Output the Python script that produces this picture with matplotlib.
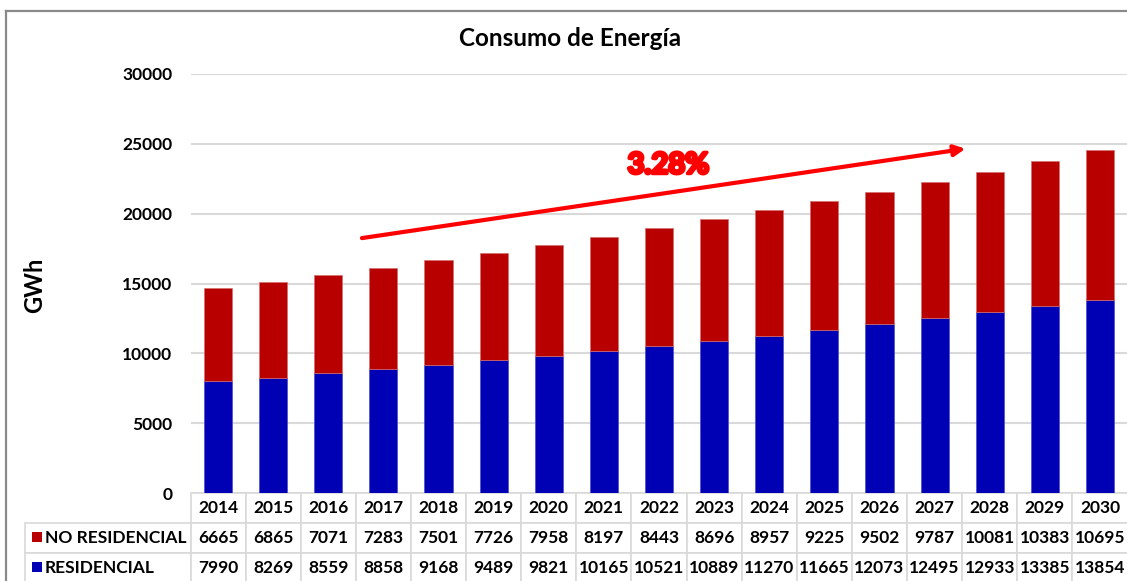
import matplotlib
matplotlib.use("Agg")
import matplotlib.pyplot as plt
import matplotlib.patheffects as pe
from matplotlib.patches import Rectangle
from matplotlib.lines import Line2D
import numpy as np

plt.rcParams['font.family'] = ['Lato', 'DejaVu Sans']

years = ['2014', '2015', '2016', '2017', '2018', '2019', '2020', '2021', '2022',
         '2023', '2024', '2025', '2026', '2027', '2028', '2029', '2030']
no_residencial = [6665, 6865, 7071, 7283, 7501, 7726, 7958, 8197, 8443,
                  8696, 8957, 9225, 9502, 9787, 10081, 10383, 10695]
residencial = [7990, 8269, 8559, 8858, 9168, 9489, 9821, 10165, 10521,
               10889, 11270, 11665, 12073, 12495, 12933, 13385, 13854]
series_labels = ['NO RESIDENCIAL', 'RESIDENCIAL']
growth_label = '3.28%'

RED = '#B80000'
BLUE = '#0000B4'
GRID = '#d9d9d9'

W, H = 1127, 581
fig = plt.figure(figsize=(W / 100, H / 100), dpi=100)
ax = fig.add_axes([190.5 / W, (H - 493) / H, 937 / W, 419 / H])

x = np.arange(len(years))
ax.bar(x, residencial, width=0.51, color=BLUE, edgecolor='#4a4ad0', linewidth=0.5, zorder=3)
ax.bar(x, no_residencial, bottom=residencial, width=0.51, color=RED,
       edgecolor='#d47070', linewidth=0.5, zorder=3)

ax.set_xlim(-0.5, len(years) - 0.5)
ax.set_ylim(0, 30000)
ax.set_yticks(range(0, 30001, 5000))
ax.set_xticks([])
ax.yaxis.grid(True, color=GRID, linewidth=1.5, zorder=0)
ax.tick_params(axis='y', length=0, pad=13, labelsize=12.5)
for t in ax.get_yticklabels():
    t.set_fontweight('bold')
for s in ax.spines.values():
    s.set_visible(False)

# growth arrow and label
ax.annotate('', xy=(13.56, 24650), xytext=(2.61, 18250),
            arrowprops=dict(arrowstyle='-|>', color='#FF0000', lw=3, mutation_scale=16,
                            shrinkA=0, shrinkB=0), zorder=5)
ax.text(8.17, 23450, growth_label, color='#FF0000', fontsize=21, fontweight='bold',
        ha='center', va='center', zorder=5,
        path_effects=[pe.withStroke(linewidth=2.5, foreground='#FF0000')])

# data table under the chart
cell_text = [[''] + years,
             [series_labels[0]] + [str(v) for v in no_residencial],
             [series_labels[1]] + [str(v) for v in residencial]]
label_w = 165.5 / 1102.5
col_w = [label_w] + [(1 - label_w) / len(years)] * len(years)
tbl = ax.table(cellText=cell_text, cellLoc='center', colWidths=col_w,
               bbox=[-0.1766, -0.215, 1.1766, 0.215])
tbl.auto_set_font_size(False)
tbl.set_fontsize(12.5)
for (r, c), cell in tbl.get_celld().items():
    cell.set_edgecolor(GRID)
    cell.set_linewidth(1.2)
    cell.get_text().set_fontweight('bold')
    if c == 0:
        if r == 0:
            cell.visible_edges = ''
        else:
            cell.get_text().set_ha('left')
            cell.PAD = 0.12

# legend keys inside the table
for yc, col in [(-0.106, RED), (-0.177, BLUE)]:
    ax.add_patch(Rectangle((-0.169, yc - 0.012), 0.0107, 0.024, transform=ax.transAxes,
                           facecolor=col, edgecolor='none', clip_on=False, zorder=6))

fig.text(570 / W, 1 - 38 / H, 'Consumo de Energía', ha='center', va='center',
         fontsize=17.5, fontweight='bold')
fig.text(35 / W, 1 - 285 / H, 'GWh', rotation=90, ha='center', va='center',
         fontsize=17, fontweight='bold')

# outer chart border
bx, by = 5.5 / W, 1 - 11 / H
fig.add_artist(Line2D([bx, bx], [0, by], color='#898989', lw=1.6))
fig.add_artist(Line2D([bx, 1], [by, by], color='#898989', lw=1.6))

fig.savefig('out.png', dpi=100)
